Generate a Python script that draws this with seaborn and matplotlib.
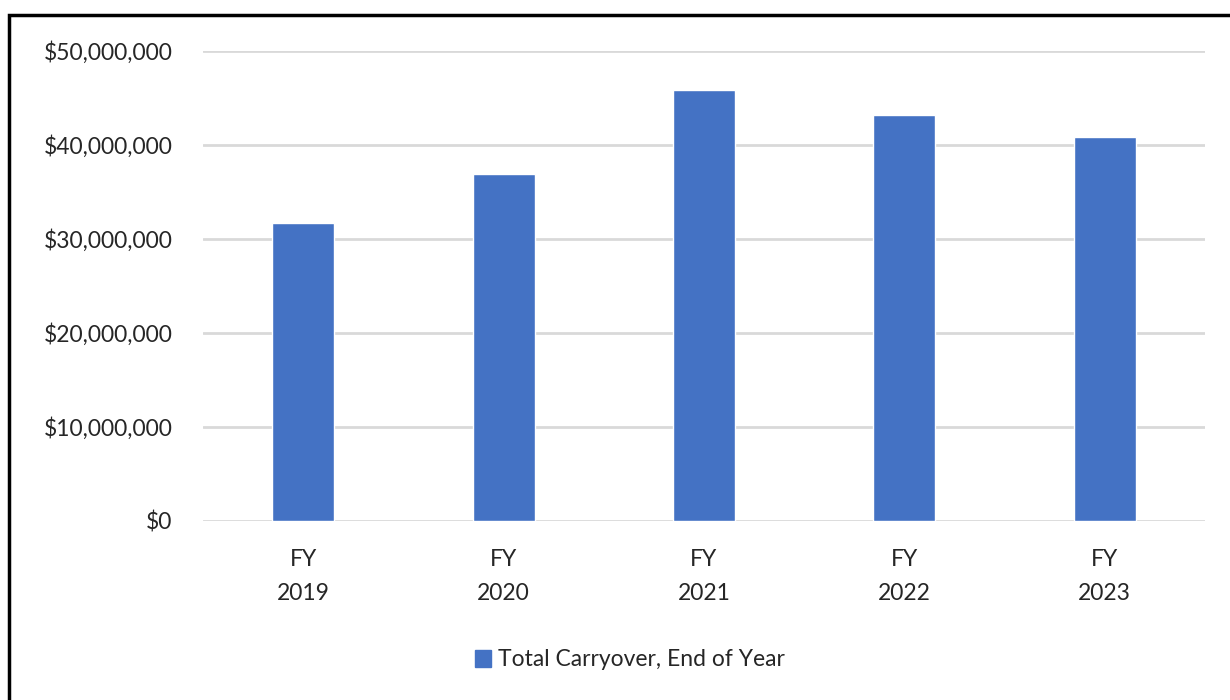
import matplotlib
matplotlib.use("Agg")
import matplotlib.pyplot as plt
import matplotlib.patches as mpatches
import seaborn as sns
import pandas as pd
from matplotlib.ticker import FuncFormatter

categories = ["FY\n2019", "FY\n2020", "FY\n2021", "FY\n2022", "FY\n2023"]
values = [31_700_000, 36_900_000, 45_800_000, 43_200_000, 40_900_000]
series_name = "Total Carryover, End of Year"

sns.set_theme(style="white")
plt.rcParams['font.family'] = ['Lato', 'DejaVu Sans']

df = pd.DataFrame({"cat": categories, "val": values})

fig = plt.figure(figsize=(12.3, 7), dpi=100)
ax = fig.add_axes([203/1230, 1 - 521/700, (1205-203)/1230, (521-51)/700])

sns.barplot(data=df, x="cat", y="val", color="#4472C4", width=0.31, ax=ax,
            saturation=1)

ax.set_ylim(0, 50_000_000)
ax.set_xlim(-0.5, 4.5)
ax.set_yticks(range(0, 50_000_001, 10_000_000))
ax.yaxis.set_major_formatter(FuncFormatter(lambda v, p: f"${v:,.0f}"))
ax.grid(axis="y", color="#d9d9d9", linewidth=2)
ax.set_axisbelow(True)
for s in ax.spines.values():
    s.set_visible(False)
ax.set_xlabel("")
ax.set_ylabel("")
ax.tick_params(axis="y", labelsize=16.5, colors="#262626", pad=22, length=0)
ax.tick_params(axis="x", labelsize=16.5, colors="#262626", pad=20, length=0)
for lab in ax.get_xticklabels():
    lab.set_linespacing(1.8)

handle = mpatches.Patch(color="#4472C4", label=series_name)
fig.legend(handles=[handle], loc="center", bbox_to_anchor=(630/1230, 1 - 660/700),
           frameon=False, fontsize=16.5, handlelength=0.7, handleheight=0.7,
           handletextpad=0.3, labelcolor="#262626")

rect = mpatches.Rectangle((9/1230, -0.05), 1.1, 1 - 15/700 + 0.05,
                          transform=fig.transFigure, fill=False,
                          edgecolor="black", linewidth=2.5)
fig.patches.append(rect)

fig.savefig("out.png", dpi=100, facecolor="white")
